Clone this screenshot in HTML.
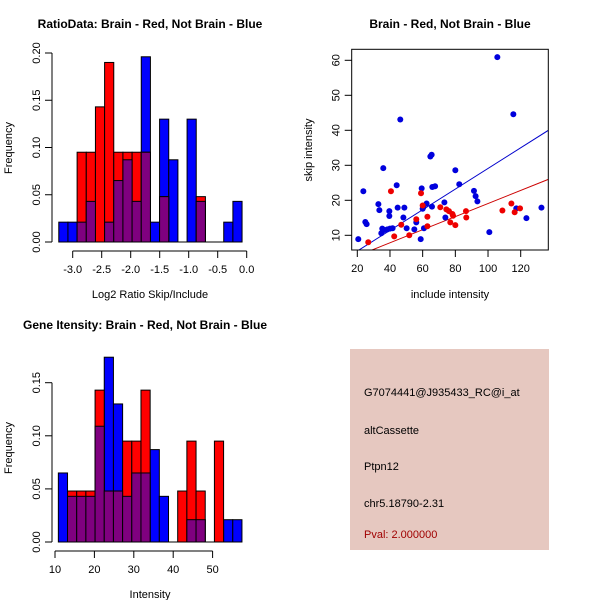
<!DOCTYPE html>
<html><head><meta charset="utf-8"><style>
body{margin:0;background:#fff}
svg{display:block;font-family:"Liberation Sans",sans-serif}
</style></head><body>
<svg id="c" width="600" height="600" xmlns="http://www.w3.org/2000/svg">
<rect width="600" height="600" fill="#fff"/>
<text x="150" y="28" font-size="12" font-weight="bold" text-anchor="middle">RatioData: Brain - Red, Not Brain - Blue</text>
<text x="450" y="28" font-size="12" font-weight="bold" text-anchor="middle">Brain - Red, Not Brain - Blue</text>
<text x="145" y="329" font-size="12" font-weight="bold" text-anchor="middle">Gene Itensity: Brain - Red, Not Brain - Blue</text>
<text x="150" y="298" font-size="11" text-anchor="middle">Log2 Ratio Skip/Include</text>
<text x="450" y="298" font-size="11" text-anchor="middle">include intensity</text>
<text x="150" y="598" font-size="11" text-anchor="middle">Intensity</text>
<text transform="translate(12,148) rotate(-90)" font-size="11" text-anchor="middle">Frequency</text>
<text transform="translate(312,150) rotate(-90)" font-size="11" text-anchor="middle">skip intensity</text>
<text transform="translate(12,448) rotate(-90)" font-size="11" text-anchor="middle">Frequency</text>
<g>
<rect x="350" y="349" width="199" height="201" fill="#e6c8c0"/>
<text x="364" y="396" font-size="11">G7074441@J935433_RC@i_at</text>
<text x="364" y="434" font-size="11">altCassette</text>
<text x="364" y="470" font-size="11">Ptpn12</text>
<text x="364" y="507" font-size="11">chr5.18790-2.31</text>
<text x="364" y="538" font-size="11" fill="#a00000">Pval: 2.000000</text>
</g>
</svg>
<script>
// Ratio histogram data
const ratioBinStart = -3.24, ratioBinWidth = 0.158;
const ratioBlue = [0.021,0.021,0.021,0.043,0,0.021,0.065,0.087,0.043,0.196,0.021,0.13,0.087,0,0.13,0.043,0,0,0.021,0.043];
const ratioRed  = [0,0,0.095,0.095,0.143,0.19,0.095,0.095,0.095,0.095,0,0.048,0,0,0,0.048,0,0,0,0];
const ratioXTicks = [-3.0,-2.5,-2.0,-1.5,-1.0,-0.5,0.0];
const ratioYTicks = [0.00,0.05,0.10,0.15,0.20];
// Intensity histogram data
const intBinStart = 10.85, intBinWidth = 2.33;
const intBlue = [0.065,0.043,0.043,0.043,0.109,0.174,0.13,0.043,0.065,0.065,0.087,0.043,0,0,0.021,0.021,0,0,0.021,0.021];
const intRed  = [0,0.048,0.048,0.048,0.143,0.048,0.048,0.095,0.095,0.143,0,0,0,0.048,0.095,0.048,0,0.095,0,0];
const intXTicks = [10,20,30,40,50];
const intYTicks = [0.00,0.05,0.10,0.15];
// Scatter data
const blueX = [20.6,23.7,24.9,25.7,32.9,33.5,35.9,34.7,35.3,36.5,38.4,39.6,39.6,40,41.6,44.1,44.7,46.3,48.2,48.8,50.2,54.9,56.1,58.8,59.4,60,60.4,60.8,62.4,64.7,65.5,65.7,65.9,67.6,73.3,73.9,80,82.4,91.4,92.4,93.5,100.8,105.7,115.5,117.3,123.5,132.7];
const blueY = [8.9,22.6,13.8,13.2,18.9,17.2,29.2,10.6,11.9,11.5,11.7,16.9,15.5,11.9,12,24.3,17.9,43.1,15.1,17.9,12,11.7,13.7,8.9,23.4,17.6,18,12,19.1,32.5,33,18.2,23.8,24,19.4,15.1,28.6,24.6,22.7,21.2,19.7,10.9,60.9,44.6,17.7,14.9,17.9];
const redX = [26.7,40.6,42.6,46.9,51.8,56.1,59,60,62.9,62.9,70.8,74.5,76.1,76.9,78.2,78.6,80,86.5,86.7,108.8,114.3,116.3,119.6];
const redY = [8,22.6,9.7,13,10,14.6,22,18.5,15.3,12.6,18,17.4,16.9,13.7,16.1,15.6,12.9,16.9,15.1,17.1,19.1,16.6,17.7];
const blueFit = [-0.4, 0.295];
const redFit = [0.38, 0.187];
const scatterXTicks = [20,40,60,80,100,120];
const scatterYTicks = [10,20,30,40,50,60];

const NS="http://www.w3.org/2000/svg";
const svg=document.getElementById('c');
function mk(t,a,p){const e=document.createElementNS(NS,t);for(const k in a)e.setAttribute(k,a[k]);(p||svg).appendChild(e);return e;}

function hist(opt){
  const g=mk('g',{});
  
  
  const sx=v=>opt.x0+(v-opt.v0)*opt.kx, sy=v=>opt.y0-v*opt.ky;
  const layers=[['blue',opt.blue,'#0000ff'],['red',opt.red,'#ff0000'],['purple',opt.blue.map((b,i)=>Math.min(b,opt.red[i])),'#7f007f']];
  layers.forEach(([nm,arr,col])=>{
    arr.forEach((v,i)=>{
      if(v<=0)return;
      const a=opt.start+i*opt.w, b=a+opt.w;
      const r=mk('rect',{x:sx(a),y:sy(v),width:sx(b)-sx(a),height:sy(0)-sy(v),fill:col,stroke:'#000','stroke-width':1},g);
      
      
    });
  });
  // baseline per bar span
  const end=opt.start+opt.blue.length*opt.w;
  mk('line',{x1:sx(opt.start),x2:sx(end),y1:sy(0),y2:sy(0),stroke:'#000'},g);
  // x axis
  const ax=mk('g',{},g);
  
  
  const xt=opt.xticks;
  mk('line',{x1:sx(xt[0]),x2:sx(xt[xt.length-1]),y1:opt.axY,y2:opt.axY,stroke:'#000'},ax);
  xt.forEach(t=>{mk('line',{x1:sx(t),x2:sx(t),y1:opt.axY,y2:opt.axY+7,stroke:'#000'},ax);
    const tx=mk('text',{x:sx(t),y:opt.axY+22,'font-size':11,'text-anchor':'middle'},ax);tx.textContent=opt.fmtX(t);});
  const ay=mk('g',{},g);
  
  
  const yt=opt.yticks;
  mk('line',{x1:opt.axX,x2:opt.axX,y1:sy(yt[0]),y2:sy(yt[yt.length-1]),stroke:'#000'},ay);
  yt.forEach(t=>{mk('line',{x1:opt.axX,x2:opt.axX-7,y1:sy(t),y2:sy(t),stroke:'#000'},ay);
    const tx=mk('text',{transform:`translate(${opt.axX-12},${sy(t)}) rotate(-90)`,'font-size':11,'text-anchor':'middle'},ay);tx.textContent=t.toFixed(2);});
}
hist({name:'ratio-histogram',blue:ratioBlue,red:ratioRed,start:ratioBinStart,w:ratioBinWidth,v0:-3,x0:72.7,kx:58,y0:242,ky:945,xticks:ratioXTicks,yticks:ratioYTicks,axY:251,axX:52,fmtX:t=>t.toFixed(1)});
hist({name:'intensity-histogram',blue:intBlue,red:intRed,start:intBinStart,w:intBinWidth,v0:10,x0:55,kx:3.94,y0:542,ky:1062,xticks:intXTicks,yticks:intYTicks,axY:551,axX:52,fmtX:t=>String(t)});

// scatter
(function(){
  const g=mk('g',{});
  
  
  const L=351.7,R=548.3,T=49.3,B=250;
  const sx=v=>357.3+(v-20)*1.634, sy=v=>235.3-(v-10)*3.5;
  const inv=px=>20+(px-357.3)/1.634;
  const clip=mk('clipPath',{id:'sc'},g);mk('rect',{x:L,y:T,width:R-L,height:B-T},clip);
  const pg=mk('g',{'clip-path':'url(#sc)'},g);
  [[blueFit,'#0000cc','blue-fit-line'],[redFit,'#cc0000','red-fit-line']].forEach(([f,c,n])=>{
    const x1=inv(L),x2=inv(R);
    const l=mk('line',{x1:L,x2:R,y1:sy(f[0]+f[1]*x1),y2:sy(f[0]+f[1]*x2),stroke:c},pg);
    
    
  });
  blueX.forEach((x,i)=>{const c=mk('circle',{cx:sx(x),cy:sy(blueY[i]),r:3,fill:'#0000dd'},pg);
    
    });
  redX.forEach((x,i)=>{const c=mk('circle',{cx:sx(x),cy:sy(redY[i]),r:3,fill:'#ee0000'},pg);
    
    });
  mk('rect',{x:L,y:T,width:R-L,height:B-T,fill:'none',stroke:'#000'},g);
  const ax=mk('g',{},g);
  
  
  scatterXTicks.forEach(t=>{mk('line',{x1:sx(t),x2:sx(t),y1:B,y2:B+7,stroke:'#000'},ax);
    const tx=mk('text',{x:sx(t),y:B+22,'font-size':11,'text-anchor':'middle'},ax);tx.textContent=t;});
  const ay=mk('g',{},g);
  
  
  scatterYTicks.forEach(t=>{mk('line',{x1:L,x2:L-7,y1:sy(t),y2:sy(t),stroke:'#000'},ay);
    const tx=mk('text',{transform:`translate(${L-12},${sy(t)}) rotate(-90)`,'font-size':11,'text-anchor':'middle'},ay);tx.textContent=t;});
})();
</script>
</body></html>
